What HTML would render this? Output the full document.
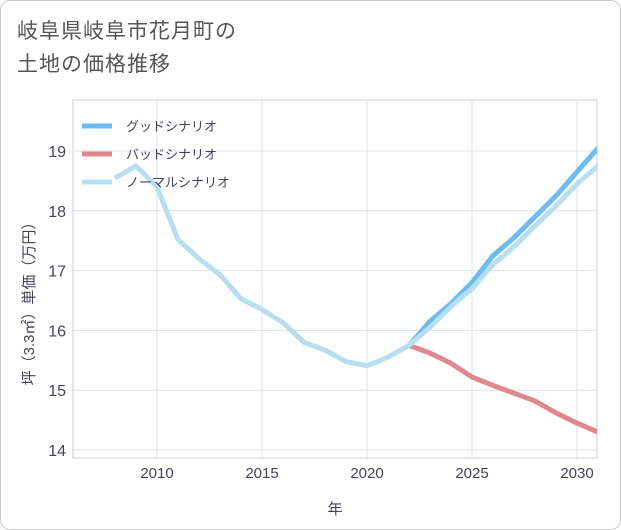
<!DOCTYPE html>
<html><head><meta charset="utf-8"><style>
body{margin:0;background:#fff;font-family:"Liberation Sans","Noto Sans CJK JP",sans-serif;}
#wrap{position:relative;width:619px;height:528px;border:1px solid #ccc;border-radius:10px;background:#fff;overflow:hidden}
.title{position:absolute;left:16px;top:14px;font-size:21px;color:#555;line-height:33px;letter-spacing:1px}
</style></head><body>
<div id="wrap">
<div class="title">岐阜県岐阜市花月町の<br>土地の価格推移</div>
<svg id="chart" width="621" height="530" style="position:absolute;left:-1px;top:-1px"></svg>
</div>
<script>
const years=[2008,2009,2010,2011,2012,2013,2014,2015,2016,2017,2018,2019,2020,2021,2022,2023,2024,2025,2026,2027,2028,2029,2030,2031];
const normal=[18.55,18.75,18.4,17.52,17.2,16.93,16.53,16.35,16.13,15.8,15.67,15.48,15.41,15.55,15.75,16.05,16.4,16.7,17.1,17.4,17.75,18.08,18.45,18.75];
const goodYears=[2022,2023,2024,2025,2026,2027,2028,2029,2030,2031];
const good=[15.75,16.15,16.45,16.8,17.25,17.55,17.9,18.25,18.65,19.05];
const bad=[15.75,15.62,15.45,15.22,15.08,14.95,14.82,14.62,14.45,14.3];
const xTicks=[2010,2015,2020,2025,2030];
const yTicks=[14,15,16,17,18,19];
const svg=document.getElementById('chart');const NS='http://www.w3.org/2000/svg';
const L=73,R=597,T=100,B=458;
const x=v=>157+(v-2010)*21;
const y=v=>450-(v-14)*59.8;
function mk(t,a,p){const e=document.createElementNS(NS,t);for(const k in a)e.setAttribute(k,a[k]);(p||svg).appendChild(e);return e;}
const defs=mk('defs',{});const cp=mk('clipPath',{id:'c'},defs);mk('rect',{x:L,y:T,width:R-L,height:B-T},cp);
const bg=mk('rect',{x:L,y:T,width:R-L,height:B-T,fill:'none',stroke:'#ccd'});

xTicks.forEach(v=>{const g=mk('line',{x1:x(v),x2:x(v),y1:T,y2:B,stroke:'#dde3ea'});

const t=mk('text',{x:x(v),y:478,'text-anchor':'middle','font-size':15,fill:'#445'});t.textContent=v;
});
yTicks.forEach(v=>{const g=mk('line',{x1:L,x2:R,y1:y(v),y2:y(v),stroke:'#dde3ea'});

const t=mk('text',{x:66,y:y(v)+6,'text-anchor':'end','font-size':16,fill:'#445'});t.textContent=v;
});
const xt=mk('text',{x:335,y:514,'text-anchor':'middle','font-size':15,fill:'#445'});xt.textContent='年';

const yt=mk('text',{x:0,y:0,'text-anchor':'middle','font-size':15,fill:'#445',transform:'translate(34,300) rotate(-90)'});yt.textContent='坪（3.3㎡）単価（万円）';

function line(xs,vs,col,name){const p=mk('path',{d:xs.map((v,i)=>(i?'L':'M')+x(v)+','+y(vs[i])).join(''),fill:'none',stroke:col,'stroke-width':5,'stroke-linejoin':'round','clip-path':'url(#c)'});
}
line(goodYears,good,'#6bbcf0','good-scenario-line');
line(goodYears,bad,'#e08890','bad-scenario-line');
line(years,normal,'#b8dff0','normal-scenario-line');
[['グッドシナリオ','#6bbcf0'],['バッドシナリオ','#e08890'],['ノーマルシナリオ','#b8dff0']].forEach((e,i)=>{
const g=mk('g',{});
mk('line',{x1:82,x2:112,y1:126+i*28,y2:126+i*28,stroke:e[1],'stroke-width':5},g);
const t=mk('text',{x:126,y:131+i*28,'font-size':13,fill:'#445'},g);t.textContent=e[0];});
</script>
</body></html>
